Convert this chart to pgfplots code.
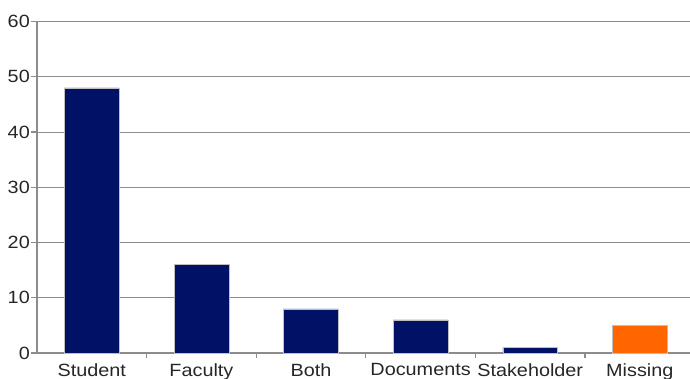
\documentclass[border=0pt]{standalone}
\usepackage{pgfplots}
\pgfplotsset{compat=1.18}
\usepackage{fontspec}
\setmainfont{Liberation Sans}[FakeStretch=1.12]
\definecolor{navy}{HTML}{001166}
\definecolor{orng}{HTML}{FF6600}
\definecolor{gridc}{HTML}{8C8C8C}
\begin{document}
\fontsize{17.7pt}{20pt}\selectfont
\begin{tikzpicture}[x=1pt,y=1pt]
\begin{axis}[
  at={(37pt,25pt)}, anchor=south west,
  scale only axis, width=653pt, height=331.5pt,
  xmin=-0.5, xmax=5.458, ymin=0, ymax=60,
  axis x line*=bottom, axis y line*=left,
  axis line style={gridc, line width=1.6pt},
  ytick={0,10,...,60},
  ymajorgrids, major grid style={gridc, line width=0.9pt},
  y tick style={gridc, line width=1.2pt},
  tick align=outside, major tick length=6pt,
  xtick={0,...,5},
  xticklabels={Student,Faculty,Both,Documents,Stakeholder,Missing},
  x tick style={draw=none},
  extra x ticks={0.5,1.5,2.5,3.5,4.5},
  extra x tick labels={},
  extra x tick style={grid=none, x tick style={draw=gridc, line width=1.2pt}, major tick length=5pt},
  tick label style={font=\fontsize{17.7pt}{20pt}\selectfont, text=black!85},
  /pgf/number format/assume math mode=true,
  yticklabel style={inner sep=1pt},
  xticklabel style={inner sep=4.5pt},
  ybar, bar width=0.5,
  clip=false,
]
\addplot[fill=navy, draw=black!25, line width=0.6pt, bar shift=0pt] coordinates {(0,48) (1,16) (2,8) (3,6) (4,1)};
\addplot[fill=orng, draw=black!25, line width=0.6pt, bar shift=0pt] coordinates {(5,5)};
\end{axis}
\pgfresetboundingbox
\path (0,0) rectangle (690,378);
\end{tikzpicture}
\end{document}
